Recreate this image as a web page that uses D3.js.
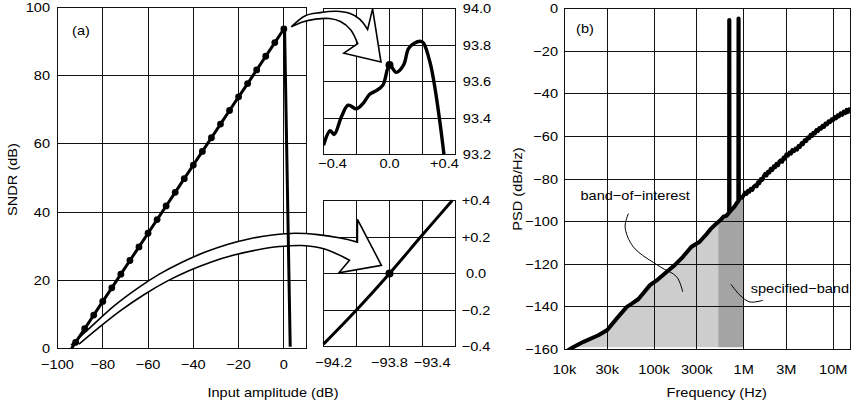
<!DOCTYPE html>
<html><head><meta charset="utf-8">
<script src="https://cdn.jsdelivr.net/npm/d3@7"></script>
<style>
html,body{margin:0;padding:0;background:#fff;}
svg{display:block;}
text{font-family:"Liberation Sans",Arial,Helvetica,sans-serif;font-size:13px;fill:#000;}
</style></head><body>
<svg id="chart" width="854" height="405"></svg>
<script>
// ---------- (a) SNDR versus input amplitude ----------
const sndrAmp = [-93.8,-92,-88,-84,-80,-76,-72,-68,-64,-60,-56,-52,-48,-44,-40,-36,-32,-28,-24,-20,-16,-12,-8,-4,0,0.2,0.33,2.8];
const sndrVal = [0,1.8,5.8,9.8,13.8,17.8,21.8,25.8,29.8,33.8,37.8,41.8,45.8,49.8,53.8,57.8,61.8,65.8,69.8,73.8,77.7,81.7,85.7,89.7,93.69,93.82,93.2,0.5];
const sndrDotAmp = [-92,-88,-84,-80,-76,-72,-68,-64,-60,-56,-52,-48,-44,-40,-36,-32,-28,-24,-20,-16,-12,-8,-4,0];
const ampTicks = [-100,-80,-60,-40,-20,0];
const sndrTicks = [0,20,40,60,80,100];

// zoom near the peak (relative amplitude, dB)
const peakX = [-0.40,-0.36,-0.335,-0.29,-0.25,-0.20,-0.16,-0.12,-0.08,-0.04,0.0,0.04,0.085,0.115,0.15,0.19,0.207,0.247,0.278,0.308,0.33,0.345];
const peakY = [93.25,93.33,93.31,93.41,93.47,93.45,93.48,93.53,93.55,93.58,93.69,93.65,93.69,93.78,93.81,93.82,93.81,93.70,93.55,93.36,93.2,93.08];
const peakXTicks = [-0.4,0.0,0.4];
const peakXLabels = ["\u22120.4","0.0","+0.4"];
const peakYTicks = [93.2,93.4,93.6,93.8,94.0];
const peakYLabels = ["93.2","93.4","93.6","93.8","94.0"];

// zoom near the 0 dB SNDR crossing
const zeroX = [-94.2,-94.0,-93.8,-93.6,-93.42];
const zeroY = [-0.387,-0.2,0.0,0.212,0.4];
const zeroXTicks = [-94.2,-93.8,-93.4];
const zeroXLabels = ["\u221294.2","\u221293.8","\u221293.4"];
const zeroYTicks = [-0.4,-0.2,0.0,0.2,0.4];
const zeroYLabels = ["\u22120.4","\u22120.2","0.0","+0.2","+0.4"];

// ---------- (b) output spectrum ----------
const psdFreq = [1e4,1.26e4,1.63e4,2.39e4,3.0e4,3.84e4,4.96e4,5.6e4,6.7e4,9.0e4,1.1e5,1.4e5,1.7e5,2.1e5,2.6e5,2.9e5,3.2e5,3.5e5,3.9e5,4.3e5,4.8e5,5.4e5,6.0e5,6.4e5,6.8e5,6.88e5,
  6.9e5,6.93e5,6.96e5,7.4e5,7.9e5,8.4e5,8.72e5,8.76e5,8.8e5,8.85e5,9.1e5,9.6e5,
  1.00e6,1.04e6,1.08e6,1.12e6,1.16e6,1.20e6,1.25e6,1.30e6,1.35e6,1.40e6,1.45e6,1.50e6,1.56e6,1.62e6,1.68e6,1.74e6,1.80e6,1.87e6,1.94e6,2.01e6,2.09e6,2.17e6,2.25e6,2.33e6,2.42e6,2.51e6,2.60e6,2.70e6,2.80e6,2.90e6,
  3.00e6,3.12e6,3.25e6,3.38e6,3.50e6,3.65e6,3.80e6,3.95e6,4.10e6,4.25e6,4.45e6,4.60e6,4.80e6,5.00e6,5.20e6,5.40e6,5.60e6,5.80e6,6.00e6,6.25e6,6.50e6,6.75e6,7.00e6,7.30e6,7.60e6,7.90e6,
  8.20e6,8.55e6,8.90e6,9.25e6,9.60e6,1.00e7,1.04e7,1.08e7,1.12e7,1.16e7,1.21e7,1.26e7,1.31e7,1.36e7,1.41e7,1.46e7,1.51e7,1.56e7];
const psdVal = [-161.4,-158.8,-156.4,-153.3,-150.9,-145.4,-140.0,-138.6,-136.3,-129.8,-127.2,-123.4,-120.4,-116.5,-111.9,-110.6,-109.6,-107.8,-105.6,-103.4,-101.5,-99.6,-97.6,-97.3,-96.0,-95.6,
  -5.4,-5.4,-95.5,-94.3,-93.0,-91.2,-90.4,-4.7,-4.7,-90.0,-88.4,-88.8,
  -87.6,-86.4,-87.0,-85.6,-85.9,-84.6,-85.1,-83.6,-83.0,-83.4,-81.5,-81.9,-80.0,-80.4,-78.7,-77.6,-78.3,-76.6,-76.9,-75.2,-75.8,-74.1,-74.4,-72.9,-73.6,-71.8,-71.2,-71.9,-69.9,-70.4,
  -68.5,-69.0,-67.6,-68.1,-66.4,-66.9,-65.7,-66.2,-64.6,-64.9,-63.2,-63.6,-61.8,-62.2,-60.6,-60.9,-59.3,-59.8,-58.3,-58.6,-57.0,-57.5,-56.1,-56.4,-55.0,-55.6,
  -54.0,-54.4,-52.9,-53.3,-52.0,-52.4,-50.9,-51.5,-50.1,-50.6,-49.2,-49.9,-48.4,-49.1,-47.6,-48.6,-47.3,-48.0];
const freqTicks = [1e4,3e4,1e5,3e5,1e6,3e6,1e7];
const freqLabels = ["10k","30k","100k","300k","1M","3M","10M"];
const psdTicks = [-160,-140,-120,-100,-80,-60,-40,-20,0];
const bandOfInterest = [1e4,5.2e5];
const specifiedBand = [5.2e5,1e6];

// ---------- scales ----------
const xA = d3.scaleLinear().domain([-100,10]).range([57.5,306.5]);
const yA = d3.scaleLinear().domain([0,100]).range([348.5,7.5]);
const xT = d3.scaleLinear().domain([-0.4,0.4]).range([323.5,455.5]);
const yT = d3.scaleLinear().domain([93.2,94.0]).range([154.5,8.5]);
const xB = d3.scaleLinear().domain([-94.2,-93.4]).range([323.5,455.5]);
const yB = d3.scaleLinear().domain([-0.4,0.4]).range([346.5,200.5]);
const xP = d3.scaleLog().domain([1e4,1.56e7]).range([564.5,850.5]);
const yP = d3.scaleLinear().domain([-160,0]).range([349.5,8.5]);

const svg = d3.select("#chart");
const SX = 1.12; // glyph stretch along the text direction

function label(g, x, y, str, anchor, rot) {
  return g.append("text")
    .attr("transform", `translate(${x},${y})${rot ? " rotate(-90)" : ""} scale(${SX},1)`)
    .attr("text-anchor", anchor || "middle")
    .attr("dy", "0.35em")
    .text(str);
}

function grid(g, xs, ys, xv, yv) {
  const [x0, x1] = xs.range(), [y0, y1] = ys.range();
  const gg = g.append("g").attr("stroke", "#111").attr("stroke-width", 1).attr("shape-rendering", "crispEdges");
  gg.selectAll("line.v").data(xv).join("line").attr("class", "v")
    .attr("x1", d => xs(d)).attr("x2", d => xs(d)).attr("y1", y0).attr("y2", y1);
  gg.selectAll("line.h").data(yv).join("line").attr("class", "h")
    .attr("y1", d => ys(d)).attr("y2", d => ys(d)).attr("x1", x0).attr("x2", x1);
  gg.append("rect").attr("x", Math.min(x0, x1)).attr("y", Math.min(y0, y1))
    .attr("width", Math.abs(x1 - x0)).attr("height", Math.abs(y1 - y0)).attr("fill", "none");
}

function clip(id, xs, ys) {
  const [x0, x1] = xs.range(), [y0, y1] = ys.range();
  svg.append("clipPath").attr("id", id).append("rect")
    .attr("x", Math.min(x0, x1)).attr("y", Math.min(y0, y1))
    .attr("width", Math.abs(x1 - x0)).attr("height", Math.abs(y1 - y0));
}
clip("clipT", xT, yT);
clip("clipP", xP, yP);

// ---------- shaded bands under the spectrum ----------
const psdPts = psdFreq.map((f, i) => [f, psdVal[i]]);
const psdArea = d3.area().x(d => xP(d[0])).y0(yP(-159)).y1(d => yP(Math.max(d[1], -159)));
[[bandOfInterest, "#cdcdcd", "clipBoi"], [specifiedBand, "#a4a4a4", "clipSpec"]].forEach(([band, col, id]) => {
  svg.append("clipPath").attr("id", id).append("rect")
    .attr("x", xP(band[0])).attr("y", yP(0)).attr("width", xP(band[1]) - xP(band[0])).attr("height", yP(-160) - yP(0));
  svg.append("path").attr("d", psdArea(psdPts)).attr("fill", col).attr("clip-path", `url(#${id})`);
});

// ---------- grids ----------
grid(svg, xA, yA, [-80,-60,-40,-20,0], [20,40,60,80]);
grid(svg, xT, yT, [-0.2,0,0.2], [93.4,93.6,93.8]);
grid(svg, xB, yB, [-94.0,-93.8,-93.6], [-0.2,0,0.2]);
grid(svg, xP, yP, [3e4,1e5,3e5,1e6,3e6,1e7], [-140,-120,-100,-80,-60,-40,-20]);

// ---------- zoom arrows (outline points in panel (a) units) ----------
const arrowPeakUpper = [[3.25,94.31],[9.5,97.6],[16,98.5],[23.2,98.9],[29,98.3],[33.5,96.6],[37,93.55]];
const arrowPeakLower = [[3.25,94.31],[8.24,95.78],[14,96.6],[20.15,96.77],[25,95.9],[29.5,93.5],[32.6,89.4]];
const arrowPeakHead = [[39.2,99.6],[42.9,84.0],[26.5,86.6]];
const arrowZeroUpper = [[-94,1],[-85,6.5],[-75,12.5],[-65,17.5],[-55,21.8],[-45,25.3],[-35,28.2],[-25,30.5],[-15,32.2],[-5,33.3],[5,33.8],[15,33.4],[25,32.4],[32.5,31.2]];
const arrowZeroLower = [[-90.5,1.3],[-82,6],[-72,11.2],[-62,15.7],[-52,19.6],[-42,22.8],[-32,25.4],[-22,27.4],[-12,28.9],[-2,29.9],[8,30.2],[18,29.2],[29,25.9]];
const arrowZeroHead = [[32.5,37.9],[43.1,24.4],[24.3,22.2]];

const edge = d3.line().x(d => xA(d[0])).y(d => yA(d[1])).curve(d3.curveCatmullRom);
function arrow(upper, lower, head) {
  let d = edge(upper);
  head.forEach(p => { d += `L${xA(p[0])},${yA(p[1])}`; });
  d += edge(lower.slice().reverse()).replace(/^M/, "L");
  svg.append("path").attr("d", d).attr("fill", "#fff").attr("stroke", "#000")
    .attr("stroke-width", 1.6).attr("stroke-linejoin", "miter");
}
arrow(arrowZeroUpper, arrowZeroLower, arrowZeroHead);
arrow(arrowPeakUpper, arrowPeakLower, arrowPeakHead);

// ---------- (a) curves ----------
const lineA = d3.line().x((d, i) => xA(sndrAmp[i])).y((d, i) => yA(sndrVal[i]));
svg.append("path").attr("d", lineA(sndrAmp)).attr("fill", "none").attr("stroke", "#000")
  .attr("stroke-width", 3).attr("stroke-linejoin", "round");
svg.append("g").selectAll("circle").data(sndrDotAmp).join("circle")
  .attr("cx", d => xA(d)).attr("cy", d => yA(sndrVal[sndrAmp.indexOf(d)])).attr("r", 3.4).attr("fill", "#000");

const lineT = d3.line().x((d, i) => xT(peakX[i])).y((d, i) => yT(peakY[i])).curve(d3.curveCatmullRom);
svg.append("path").attr("d", lineT(peakX)).attr("fill", "none").attr("stroke", "#000")
  .attr("stroke-width", 3.4).attr("clip-path", "url(#clipT)");
svg.append("circle").attr("cx", xT(0)).attr("cy", yT(peakY[peakX.indexOf(0)])).attr("r", 4).attr("fill", "#000");

const lineB = d3.line().x((d, i) => xB(zeroX[i])).y((d, i) => yB(zeroY[i])).curve(d3.curveCatmullRom);
svg.append("path").attr("d", lineB(zeroX)).attr("fill", "none").attr("stroke", "#000").attr("stroke-width", 3);
svg.append("circle").attr("cx", xB(-93.8)).attr("cy", yB(zeroY[zeroX.indexOf(-93.8)])).attr("r", 4).attr("fill", "#000");

// ---------- (b) spectrum ----------
const lineP = d3.line().x(d => xP(d[0])).y(d => yP(d[1]));
svg.append("path").attr("d", lineP(psdPts)).attr("fill", "none").attr("stroke", "#000")
  .attr("stroke-width", 4).attr("stroke-linejoin", "round").attr("clip-path", "url(#clipP)");

// band annotations
const boiLeader = [[5.17e4,-96.2],[4.75e4,-102.5],[5.88e4,-111.9],[1.17e5,-121.2],[1.79e5,-125.9],[2.09e5,-133.0]];
const specLeader = [[7.21e5,-129.4],[9.09e5,-134.5],[1.175e6,-137.7],[1.65e6,-136.9]];
const leader = d3.line().x(d => xP(d[0])).y(d => yP(d[1])).curve(d3.curveCatmullRom);
[boiLeader, specLeader].forEach(p => svg.append("path").attr("d", leader(p))
  .attr("fill", "none").attr("stroke", "#000").attr("stroke-width", 1));
label(svg, xP(6.14e4), yP(-87.6), "band\u2212of\u2212interest", "middle");
label(svg, xP(1.2e6), yP(-131.4), "specified\u2212band", "start");

// ---------- tick labels ----------
sndrTicks.forEach(v => label(svg, 50, yA(v), String(v), "end"));
ampTicks.forEach(v => label(svg, xA(v), 364, v < 0 ? "\u2212" + Math.abs(v) : String(v), "middle"));

const edgeAnchor = ["start", "middle", "end"];
const peakXShift = [-5.3, 0, 3.3];
peakXTicks.forEach((v, i) => label(svg, xT(v) + peakXShift[i], 163, peakXLabels[i], edgeAnchor[i]));
peakYTicks.forEach((v, i) => label(svg, 477, yT(v), peakYLabels[i], "middle"));
const zeroXShift = [-8.3, 0, -5];
zeroXTicks.forEach((v, i) => label(svg, xB(v) + zeroXShift[i], 362.5, zeroXLabels[i], edgeAnchor[i]));
zeroYTicks.forEach((v, i) => label(svg, 476, yB(v), zeroYLabels[i], "middle"));

psdTicks.forEach(v => label(svg, 558, yP(v), v < 0 ? "\u2212" + Math.abs(v) : String(v), "end"));
freqTicks.forEach((v, i) => label(svg, xP(v), 369, freqLabels[i], "middle"));

// ---------- titles ----------
label(svg, 81, 30.5, "(a)", "middle");
label(svg, 585, 28.5, "(b)", "middle");
label(svg, 12, 179.5, "SNDR (dB)", "middle", true);
label(svg, 273, 392, "Input amplitude (dB)", "middle");
label(svg, 517.5, 189, "PSD (dB/Hz)", "middle", true);
label(svg, 716.7, 392, "Frequency (Hz)", "middle");
</script>
</body></html>
